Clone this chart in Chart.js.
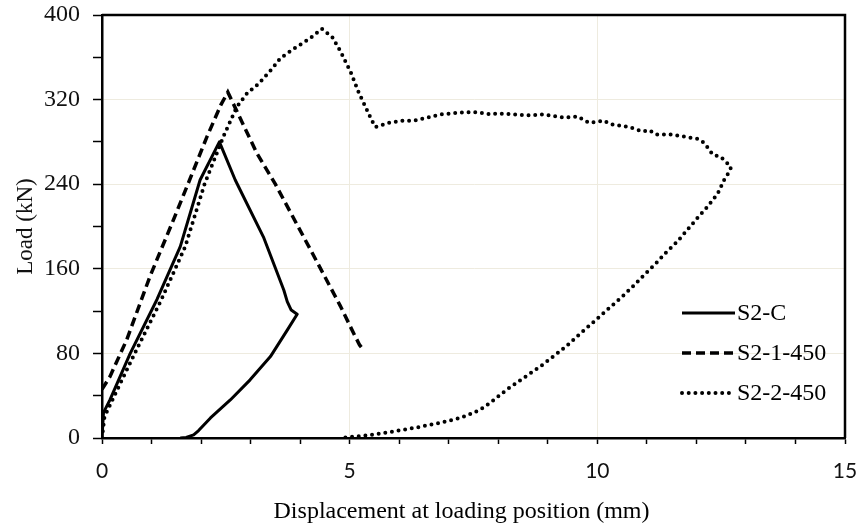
<!DOCTYPE html>
<html>
<head>
<meta charset="utf-8">
<script src="https://cdn.jsdelivr.net/npm/chart.js@4.4.1/dist/chart.umd.min.js"></script>
<style>
  html, body { margin: 0; padding: 0; background: #fff; }
  canvas { display: block; }
</style>
</head>
<body>
<canvas id="load-chart" width="859" height="525"></canvas>
<script>
// series names
const seriesNames = ['S2-C', 'S2-1-450', 'S2-2-450'];

// S2-C : displacement (mm) / load (kN)
const s2cX = [0, 0.03, 0.16, 0.57, 1.11, 1.58, 1.98, 2.37, 2.69, 3.26, 3.67, 3.74, 3.82, 3.94,
  3.74, 3.40, 2.99, 2.59, 2.19, 1.95, 1.85, 1.70, 1.58];
const s2cY = [0, 24, 36, 80, 131, 181, 244, 280, 244, 190, 140, 129, 121, 117,
  102, 77, 55, 36, 19, 7, 3, 0.5, 0];

// S2-1-450
const s21X = [0, 0.16, 0.50, 0.97, 1.44, 1.76, 2.12, 2.40, 2.54, 3.13, 3.50, 4.21, 4.81, 5.08, 5.20, 5.25];
const s21Y = [46, 58, 93, 153, 206, 243, 285, 315, 327, 269, 240, 178, 125, 99, 88, 85];

// S2-2-450
const s22X = [0, 0.05, 0.25, 0.66, 1.20, 1.68, 2.07, 2.45, 2.72, 2.93, 3.16, 3.43, 3.60, 3.87, 4.20, 4.44,
  4.65, 4.81, 5.02, 5.18, 5.32, 5.45, 5.52,
  5.79, 6.03, 6.29, 6.57, 6.83, 7.31, 7.58, 7.85, 7.98, 8.32, 8.65, 8.92, 9.33, 9.60, 9.83, 10.14, 10.24,
  10.64, 10.91, 11.05, 11.18, 11.48, 11.75, 12.02, 12.16, 12.33, 12.49, 12.60, 12.70,
  12.64, 12.56, 12.43, 12.23, 12.02, 11.82, 11.62, 11.38, 11.18, 10.94, 10.71, 10.51, 10.17, 9.93,
  9.66, 9.40, 9.19, 8.86, 8.55, 8.18, 7.91, 7.71, 7.51, 7.24, 6.83, 6.36, 5.82, 5.35, 5.02, 4.81];
const s22Y = [0, 20, 40, 80, 131, 181, 240, 285, 313, 326, 335, 349, 359, 368, 378, 387,
  379, 366, 346, 327, 313, 300, 294,
  298, 300, 300, 303, 306, 308, 308, 306, 307, 306, 305, 306, 303, 304, 298, 300, 297,
  294, 290, 291, 287, 287, 285, 283, 279, 268, 266, 261, 256,
  250, 244, 231, 219, 208, 197, 186, 175, 165, 154, 143, 134, 120, 110,
  99, 88, 80, 68, 58, 46, 36, 29, 24, 19, 14.5, 10, 5.7, 2.5, 1, 0];

// axis ticks
const xTickLabels = [0, 5, 10, 15];
const yTickLabels = [0, 80, 160, 240, 320, 400];

const GRID = '#eeebdf';
const SERIF = '"Liberation Serif", "Times New Roman", serif';

function toPoints(xs, ys) {
  return xs.map((x, i) => ({ x: x, y: ys[i] }));
}

// frame (top/right), legend inside the plot, x axis title
const extrasPlugin = {
  id: 'extras',
  afterDatasetsDraw(chart) {
    const { ctx, chartArea } = chart;
    ctx.save();
    ctx.strokeStyle = '#000';
    ctx.lineWidth = 2.5;
    ctx.setLineDash([]);
    ctx.beginPath();
    ctx.moveTo(chartArea.left, chartArea.top);
    ctx.lineTo(chartArea.right, chartArea.top);
    ctx.lineTo(chartArea.right, chartArea.bottom);
    ctx.stroke();

    // legend
    chart.data.datasets.forEach((ds, i) => {
      const y = chartArea.top + 298 + i * 40;
      const x0 = chartArea.right - 163;
      const x1 = chartArea.right - 110;
      ctx.strokeStyle = '#000';
      ctx.lineWidth = ds.borderWidth;
      ctx.lineCap = ds.borderCapStyle || 'butt';
      ctx.setLineDash(ds.borderDash || []);
      ctx.beginPath();
      ctx.moveTo(x0, y);
      ctx.lineTo(x1, y);
      ctx.stroke();
      ctx.setLineDash([]);
      ctx.fillStyle = '#000';
      ctx.font = '24px ' + SERIF;
      ctx.textBaseline = 'middle';
      ctx.textAlign = 'left';
      ctx.fillText(ds.label, chartArea.right - 108, y + 1);
    });

    // x axis title
    ctx.font = '24px ' + SERIF;
    ctx.textAlign = 'center';
    ctx.textBaseline = 'alphabetic';
    ctx.fillText('Displacement at loading position (mm)', (chartArea.left + chartArea.right) / 2 - 12, 518);
    ctx.restore();
  }
};

function createLoadChart() {
  const ctx = document.getElementById('load-chart').getContext('2d');

  new Chart(ctx, {
    type: 'scatter',
    data: {
      datasets: [
        {
          label: seriesNames[0],
          data: toPoints(s2cX, s2cY),
          showLine: true,
          borderColor: '#000',
          borderWidth: 3,
          borderJoinStyle: 'round',
          pointRadius: 0,
          tension: 0
        },
        {
          label: seriesNames[1],
          data: toPoints(s21X, s21Y),
          showLine: true,
          borderColor: '#000',
          borderWidth: 3.5,
          borderDash: [9, 5],
          borderCapStyle: 'butt',
          pointRadius: 0,
          tension: 0
        },
        {
          label: seriesNames[2],
          data: toPoints(s22X, s22Y),
          showLine: true,
          borderColor: '#000',
          borderWidth: 4,
          borderDash: [0, 6.7],
          borderCapStyle: 'round',
          pointRadius: 0,
          tension: 0
        }
      ]
    },
    options: {
      responsive: false,
      animation: false,
      devicePixelRatio: 1,
      layout: { padding: { top: 15, right: 14, left: 0, bottom: 0 } },
      plugins: {
        legend: { display: false },
        tooltip: { enabled: false }
      },
      scales: {
        x: {
          type: 'linear',
          min: 0,
          max: 15,
          afterFit: (scale) => {
            scale.height = 87;
            scale.paddingLeft = 0;
            scale.paddingRight = 0;
          },
          ticks: {
            stepSize: 1,
            autoSkip: false,
            maxRotation: 0,
            padding: 15,
            color: '#111',
            font: { family: 'Lato, "Liberation Sans", sans-serif', size: 21 },
            callback: (v) => xTickLabels.includes(v) ? String(v) : ''
          },
          grid: {
            color: (c) => (c.tick && (c.tick.value === 5 || c.tick.value === 10)) ? GRID : 'rgba(0,0,0,0)',
            lineWidth: 1,
            tickColor: '#000',
            tickLength: 6,
            tickWidth: 1.5
          },
          border: { color: '#000', width: 2.5 }
        },
        y: {
          min: 0,
          max: 400,
          afterFit: (scale) => {
            scale.width = 102;
            scale.paddingTop = 0;
            scale.paddingBottom = 0;
          },
          ticks: {
            stepSize: 40,
            autoSkip: false,
            padding: 13,
            color: '#111',
            font: { family: SERIF, size: 24 },
            callback: (v) => yTickLabels.includes(v) ? String(v) : ''
          },
          grid: {
            color: (c) => (c.tick && c.tick.value % 80 === 0 && c.tick.value > 0 && c.tick.value < 400) ? GRID : 'rgba(0,0,0,0)',
            lineWidth: 1,
            tickColor: '#000',
            tickLength: 9,
            tickWidth: 1.5
          },
          border: { color: '#000', width: 2.5 },
          title: {
            display: true,
            text: 'Load (kN)',
            color: '#111',
            font: { family: SERIF, size: 23 },
            padding: { top: 12, bottom: 0 }
          }
        }
      }
    },
    plugins: [extrasPlugin]
  });
}

createLoadChart();
</script>
</body>
</html>
